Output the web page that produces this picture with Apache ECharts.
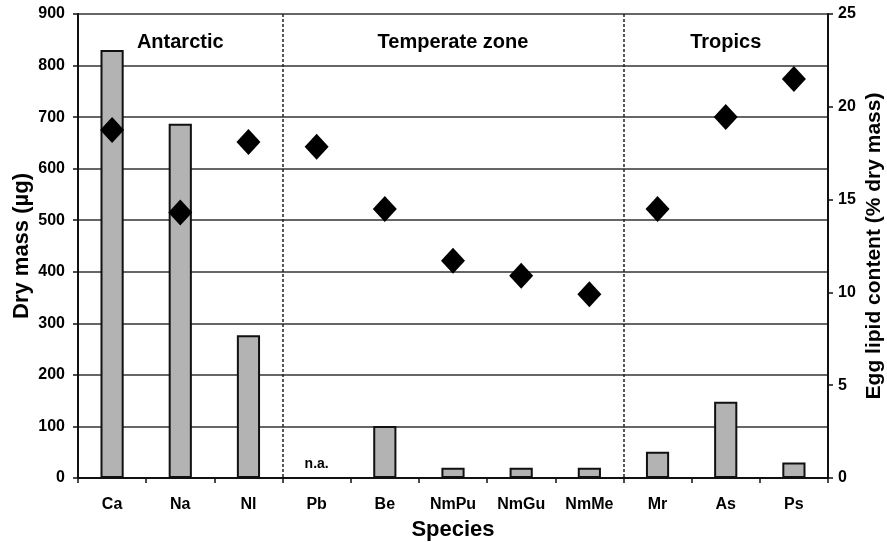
<!DOCTYPE html>
<html><head><meta charset="utf-8">
<script src="https://cdn.jsdelivr.net/npm/echarts@6/dist/echarts.min.js"></script>
<style>html,body{margin:0;padding:0;background:#fff}#c{width:887px;height:542px}</style>
</head><body><div id="c"></div>
<script>
var species = ['Ca','Na','Nl','Pb','Be','NmPu','NmGu','NmMe','Mr','As','Ps'];
var dryMass = [830, 687, 277, null, 101, 20, 20, 20, 51, 148, 30];
var lipid = [18.75, 14.3, 18.1, 17.85, 14.5, 11.7, 10.9, 9.9, 14.5, 19.45, 21.5];
var zones = ['Antarctic','Temperate zone','Tropics'];
var zoneStart = [0, 3, 8];
var zoneEnd = [2, 7, 10];
var leftTicks = [0,100,200,300,400,500,600,700,800,900];
var rightTicks = [0,5,10,15,20,25];

var FONT = '"Liberation Sans", Arial, sans-serif';
var chart = echarts.init(document.getElementById('c'));
var gL = 78, gR = 59, gT = 14, gB = 64;
var plotW = 887 - gL - gR, catW = plotW / species.length;

var barData = dryMass.map(function(v){
  if (v === null) return {value: 0, itemStyle:{borderWidth:0, color:'transparent'},
    label:{show:true, formatter:'n.a.', position:'top', distance:7, color:'#000', fontWeight:'bold', fontSize:14, fontFamily:FONT}};
  return v;
});

var graphics = zones.map(function(z,i){
  var cx = gL + catW * ((zoneStart[i] + zoneEnd[i] + 1) / 2);
  return {type:'text', x: cx, y: 42, style:{text:z, fill:'#000', font:'bold 20px ' + FONT, textAlign:'center', textVerticalAlign:'middle'}};
});

chart.setOption({
  animation:false,
  grid:{left:gL, right:gR, top:gT, bottom:gB, containLabel:false, outerBoundsMode:'none'},
  graphic: graphics,
  xAxis:{
    type:'category', data: species,
    name:'Species', nameLocation:'middle', nameGap:41, nameMoveOverlap:false,
    nameTextStyle:{fontFamily:FONT, fontWeight:'bold', fontSize:22, color:'#000'},
    axisLine:{lineStyle:{color:'#111', width:2}},
    axisTick:{show:true, length:5, lineStyle:{color:'#111', width:1.5}},
    axisLabel:{fontFamily:FONT, fontWeight:'bold', fontSize:16, color:'#000', margin:19},
    splitLine:{show:true, interval:function(idx){ return zoneStart.indexOf(idx) > 0; },
      lineStyle:{color:'#222', width:1.5, type:[3,2]}}
  },
  yAxis:[{
    type:'value', min:0, max:900, interval:100, position:'left',
    name:'Dry mass (µg)', nameLocation:'middle', nameGap:45, nameRotate:90, nameMoveOverlap:false,
    nameTextStyle:{fontFamily:FONT, fontWeight:'bold', fontSize:22, color:'#000'},
    axisLine:{show:true, lineStyle:{color:'#111', width:2}},
    axisTick:{show:true, length:5, lineStyle:{color:'#111', width:1.5}},
    axisLabel:{fontFamily:FONT, fontWeight:'bold', fontSize:16, color:'#000', margin:13},
    splitLine:{show:true, lineStyle:{color:'#333', width:1.5}}
  },{
    type:'value', min:0, max:25, interval:5, position:'right',
    name:'Egg lipid content (% dry mass)', nameLocation:'middle', nameGap:36, nameRotate:90, nameMoveOverlap:false,
    nameTextStyle:{fontFamily:FONT, fontWeight:'bold', fontSize:21, color:'#000'},
    axisLine:{show:true, lineStyle:{color:'#111', width:2}},
    axisTick:{show:true, length:5, lineStyle:{color:'#111', width:1.5}},
    axisLabel:{fontFamily:FONT, fontWeight:'bold', fontSize:16, color:'#000', margin:10},
    splitLine:{show:false}
  }],
  series:[{
    type:'bar', yAxisIndex:0, data: barData, barWidth:'34%',
    itemStyle:{color:'#b3b3b3', borderColor:'#111', borderWidth:2}
  },{
    type:'scatter', yAxisIndex:1, data: lipid, symbol:'diamond', symbolSize:[24,26],
    itemStyle:{color:'#000', opacity:1}, z:5
  }]
});
</script></body></html>
